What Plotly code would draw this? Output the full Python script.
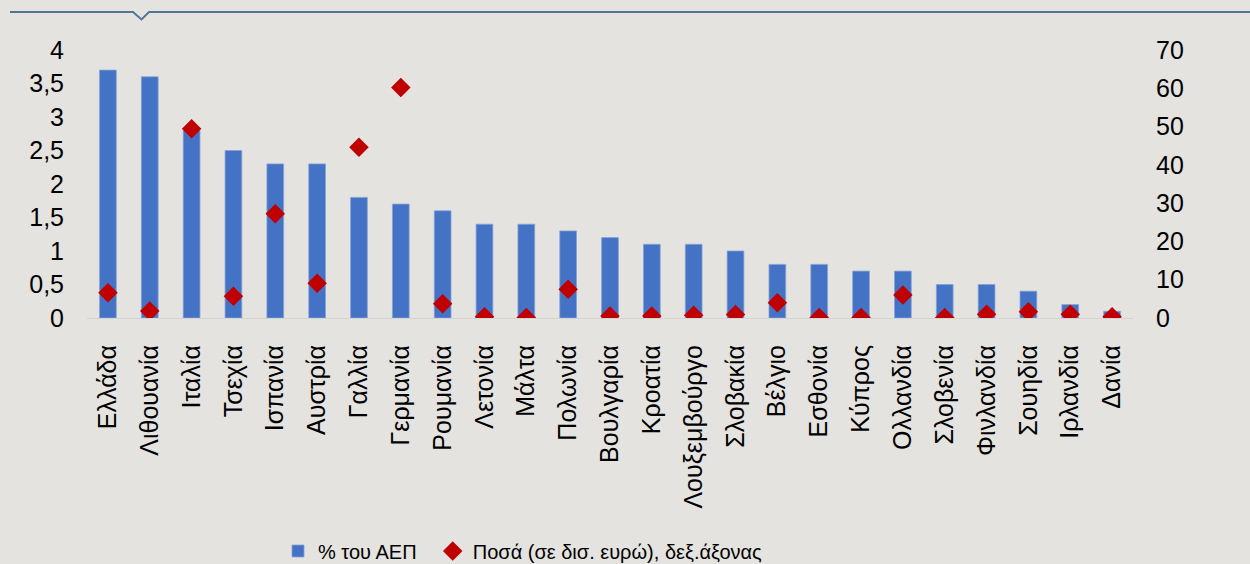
import plotly.graph_objects as go

countries = ["Ελλάδα", "Λιθουανία", "Ιταλία", "Τσεχία", "Ισπανία", "Αυστρία", "Γαλλία",
             "Γερμανία", "Ρουμανία", "Λετονία", "Μάλτα", "Πολωνία", "Βουλγαρία", "Κροατία",
             "Λουξεμβούργο", "Σλοβακία", "Βέλγιο", "Εσθονία", "Κύπρος", "Ολλανδία",
             "Σλοβενία", "Φινλανδία", "Σουηδία", "Ιρλανδία", "Δανία"]
gdp_pct = [3.7, 3.6, 2.8, 2.5, 2.3, 2.3, 1.8, 1.7, 1.6, 1.4, 1.4, 1.3, 1.2, 1.1,
           1.1, 1.0, 0.8, 0.8, 0.7, 0.7, 0.5, 0.5, 0.4, 0.2, 0.1]
amounts = [6.6, 1.8, 49.4, 5.7, 27.2, 9.1, 44.6, 60.2, 3.7, 0.3, 0.1, 7.5, 0.5, 0.5,
           0.7, 0.9, 4.0, 0.1, 0.1, 6.0, 0.1, 1.0, 1.6, 1.0, 0.3]

W, H = 1250, 564
L, R, T, B = 87, 117, 50, 246
PW, PH = W - L - R, H - T - B

def px(x):
    return (x - L) / PW

def py(y):
    return (H - B - y) / PH

FONT = "Liberation Sans, Arial, sans-serif"
BG = "#E4E3DF"

fig = go.Figure()
fig.add_trace(go.Bar(
    x=countries, y=gdp_pct, name="% του ΑΕΠ\u00a0\u00a0", width=0.4,
    marker=dict(color="#4472C4", line=dict(color="#86A1D8", width=0.8)),
    yaxis="y",
))
fig.add_trace(go.Scatter(
    x=countries, y=amounts, name="Ποσά (σε δισ. ευρώ), δεξ.άξονας", mode="markers",
    marker=dict(symbol="diamond", size=15, color="#C00000"),
    yaxis="y2",
))

line_pts = [(10, 12), (133, 12), (141.5, 19.5), (149, 12), (1250, 12)]
path = "M " + " L ".join(f"{px(a):.5f},{py(b):.5f}" for a, b in line_pts)
fig.add_shape(type="path", path=path, xref="paper", yref="paper",
              line=dict(color="#52749A", width=2))

fig.update_layout(
    width=W, height=H, autosize=False,
    margin=dict(l=L, r=R, t=T, b=B, pad=0, autoexpand=False),
    paper_bgcolor=BG, plot_bgcolor=BG,
    separators=", ",
    font=dict(family=FONT, size=25, color="#000000"),
    showlegend=True,
    legend=dict(
        orientation="h", xref="container", x=278 / W, xanchor="left",
        yref="container", y=(H - 551) / H, yanchor="middle",
        font=dict(family=FONT, size=20, color="#000000"),
        bgcolor="rgba(0,0,0,0)", itemwidth=30, traceorder="normal",
    ),
    bargap=0.6,
    xaxis=dict(
        type="category", range=[-0.5, len(countries) - 0.5],
        showline=True, linecolor="#D3D3D3", linewidth=1,
        showgrid=False, zeroline=False, ticks="", tickangle=-90,
        tickfont=dict(size=25), ticklabelstandoff=16, automargin=False,
    ),
    yaxis=dict(
        range=[0, 4], dtick=0.5, tick0=0, showgrid=False, zeroline=False,
        showline=False, ticks="", tickfont=dict(size=25), ticklabelstandoff=22,
        automargin=False,
    ),
    yaxis2=dict(
        range=[0, 70], dtick=10, tick0=0, overlaying="y", side="right",
        showgrid=False, zeroline=False, showline=False, ticks="",
        tickfont=dict(size=25), ticklabelstandoff=22, automargin=False,
    ),
)

fig.write_html("out.html")
